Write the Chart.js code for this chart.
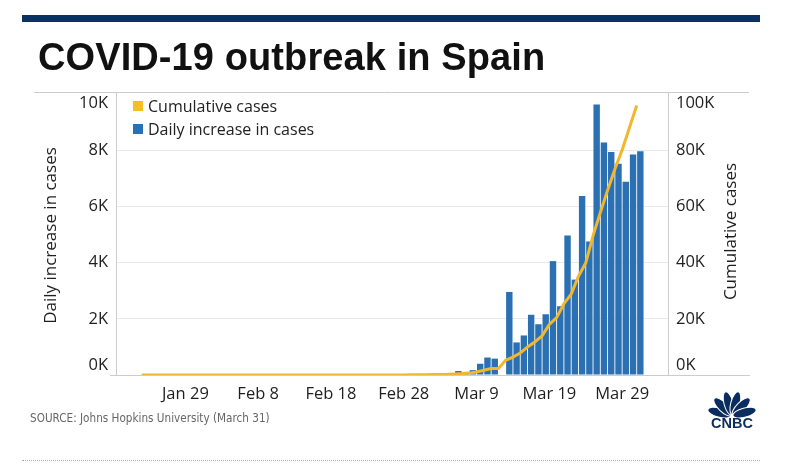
<!DOCTYPE html>
<html>
<head>
<meta charset="utf-8">
<script src="https://cdn.jsdelivr.net/npm/chart.js@4.4.1/dist/chart.umd.min.js"></script>
<style>
  html, body { margin: 0; padding: 0; background: #ffffff; width: 786px; height: 474px; overflow: hidden; }
  #wrap { position: relative; width: 786px; height: 474px; }
  #chart { position: absolute; left: 0; top: 0; }
  .topbar { position: absolute; left: 22px; top: 15px; width: 738px; height: 7px; background: #0a3162; }
  .title { position: absolute; left: 38px; top: 38px; margin: 0; font: bold 38px/38px "Liberation Sans", Arial, sans-serif; color: #111111; letter-spacing: 0.1px; white-space: nowrap; }
  .sw { position: absolute; width: 10px; height: 10px; }
  .legtxt { position: absolute; left: 148px; font: 16px/20px "Open Sans", sans-serif; color: #222222; white-space: nowrap; }
  .source { position: absolute; left: 30px; top: 410px; font: 13px/16px "Liberation Sans Narrow", "DejaVu Sans Condensed", sans-serif; color: #666666; white-space: nowrap; transform: scaleX(0.895); transform-origin: 0 50%; }
  .dotted { position: absolute; left: 22px; top: 460px; width: 738px; height: 0; border-top: 1px dotted #aaaaaa; }
  .logo { position: absolute; left: 704px; top: 389px; }
</style>
</head>
<body>
<div id="wrap">
  <canvas id="chart" width="786" height="474"></canvas>
  <div class="topbar"></div>
  <h1 class="title">COVID-19 outbreak in Spain</h1>
  <div class="sw" style="left:133px;top:101px;background:#f5bf1c"></div>
  <div class="legtxt" style="top:96px">Cumulative cases</div>
  <div class="sw" style="left:133px;top:124px;background:#2a70b3"></div>
  <div class="legtxt" style="top:119px">Daily increase in cases</div>
  <div class="source">SOURCE: Johns Hopkins University (March 31)</div>
  <div class="dotted"></div>
  <svg class="logo" width="56" height="42" viewBox="0 0 56 42">
    <g fill="#0b2c5f" stroke="#ffffff" stroke-width="1">
      <ellipse cx="28" cy="14" rx="4.6" ry="12" transform="rotate(-75 28 27)"/>
      <ellipse cx="28" cy="14" rx="4.6" ry="12" transform="rotate(-45 28 27)"/>
      <ellipse cx="28" cy="14" rx="4.6" ry="12" transform="rotate(-15 28 27)"/>
      <ellipse cx="28" cy="14" rx="4.6" ry="12" transform="rotate(15 28 27)"/>
      <ellipse cx="28" cy="14" rx="4.6" ry="12" transform="rotate(45 28 27)"/>
      <ellipse cx="28" cy="14" rx="4.6" ry="12" transform="rotate(75 28 27)"/>
    </g>
    <text x="28" y="39" text-anchor="middle" font-family="Liberation Sans, Arial, sans-serif" font-weight="bold" font-size="14.5" fill="#0b2c5f">CNBC</text>
  </svg>
</div>
<script>
// ---- data ----
const days = [
  'Jan 23','Jan 24','Jan 25','Jan 26','Jan 27','Jan 28','Jan 29','Jan 30','Jan 31',
  'Feb 1','Feb 2','Feb 3','Feb 4','Feb 5','Feb 6','Feb 7','Feb 8','Feb 9','Feb 10',
  'Feb 11','Feb 12','Feb 13','Feb 14','Feb 15','Feb 16','Feb 17','Feb 18','Feb 19','Feb 20',
  'Feb 21','Feb 22','Feb 23','Feb 24','Feb 25','Feb 26','Feb 27','Feb 28','Feb 29',
  'Mar 1','Mar 2','Mar 3','Mar 4','Mar 5','Mar 6','Mar 7','Mar 8','Mar 9','Mar 10',
  'Mar 11','Mar 12','Mar 13','Mar 14','Mar 15','Mar 16','Mar 17','Mar 18','Mar 19','Mar 20',
  'Mar 21','Mar 22','Mar 23','Mar 24','Mar 25','Mar 26','Mar 27','Mar 28','Mar 29','Mar 30','Mar 31'
];
const cumulativeCases = [
  0,0,0,0,0,0,0,0,0,
  1,1,1,1,1,1,1,1,2,2,
  2,2,2,2,2,2,2,2,2,2,
  2,2,2,2,6,13,15,32,45,
  84,120,165,222,259,400,500,673,1073,1695,
  2277,2277,5232,6391,7798,9942,11748,13910,17963,20410,
  25374,28768,35136,39885,49515,57786,65719,73235,80110,87956,95923
];
const dailyIncrease = [
  0,0,0,0,0,0,0,0,0,
  1,0,0,0,0,0,0,0,1,0,
  0,0,0,0,0,0,0,0,0,0,
  0,0,0,0,4,7,2,17,13,
  39,36,45,57,37,141,100,173,400,622,
  582,0,2955,1159,1407,2144,1806,2162,4053,2447,
  4964,3394,6368,4749,9630,8271,7933,7516,6875,7846,7967
];
const xTickLabels = ['Jan 29','Feb 8','Feb 18','Feb 28','Mar 9','Mar 19','Mar 29'];
const leftTicks = [0, 2000, 4000, 6000, 8000, 10000];
const leftTickLabels = ['0K','2K','4K','6K','8K','10K'];
const rightTicks = [0, 20000, 40000, 60000, 80000, 100000];
const rightTickLabels = ['0K','20K','40K','60K','80K','100K'];
const leftAxisTitle = 'Daily increase in cases';
const rightAxisTitle = 'Cumulative cases';

// ---- styles ----
const BODY_FONT = '"Open Sans", sans-serif';
const TEXT_COLOR = '#1e1e1e';

const decor = {
  id: 'decor',
  beforeDatasetsDraw(chart) {
    const c = chart.ctx, a = chart.chartArea;
    c.save();
    c.strokeStyle = '#cccccc';
    c.lineWidth = 1;
    c.beginPath();
    c.moveTo(34, 92.5); c.lineTo(749, 92.5);
    c.moveTo(110, a.bottom + 0.5); c.lineTo(750, a.bottom + 0.5);
    c.moveTo(a.left + 0.5, 92); c.lineTo(a.left + 0.5, a.bottom);
    c.moveTo(a.right + 0.5, 92); c.lineTo(a.right + 0.5, a.bottom);
    c.stroke();
    c.restore();
  },
  afterDraw(chart) {
    const c = chart.ctx, a = chart.chartArea;
    c.save();
    c.fillStyle = TEXT_COLOR;
    c.font = '16.5px ' + BODY_FONT;
    c.textBaseline = 'middle';
    const sy = chart.scales.y, sy2 = chart.scales.y2;
    const clampY = p => Math.min(Math.max(p, a.top + 9), a.bottom - 10);
    c.textAlign = 'right';
    leftTicks.forEach((v, i) => c.fillText(leftTickLabels[i], a.left - 8, clampY(sy.getPixelForValue(v))));
    c.textAlign = 'left';
    rightTicks.forEach((v, i) => c.fillText(rightTickLabels[i], a.right + 8, clampY(sy2.getPixelForValue(v))));
    c.font = '17px ' + BODY_FONT;
    c.textAlign = 'center';
    c.translate(51, (a.top + a.bottom) / 2 + 1);
    c.rotate(-Math.PI / 2);
    c.fillText(leftAxisTitle, 0, 0);
    c.restore();
    c.save();
    c.fillStyle = TEXT_COLOR;
    c.font = '17px ' + BODY_FONT;
    c.textAlign = 'center';
    c.textBaseline = 'middle';
    c.translate(731, (a.top + a.bottom) / 2 - 3);
    c.rotate(-Math.PI / 2);
    c.fillText(rightAxisTitle, 0, 0);
    c.restore();
  }
};

new Chart(document.getElementById('chart'), {
  type: 'bar',
  data: {
    datasets: [
      {
        type: 'line',
        label: 'Cumulative cases',
        data: cumulativeCases.map((v, i) => ({ x: i, y: v })),
        yAxisID: 'y2',
        borderColor: '#f1b82d',
        borderWidth: 3,
        pointRadius: 0,
        tension: 0,
        fill: false,
        order: 0
      },
      {
        type: 'bar',
        label: 'Daily increase in cases',
        data: dailyIncrease.map((v, i) => ({ x: i + 0.5, y: v })),
        yAxisID: 'y',
        backgroundColor: '#2a70b3',
        barPercentage: 0.88,
        categoryPercentage: 1,
        order: 1
      }
    ]
  },
  options: {
    responsive: false,
    animation: false,
    devicePixelRatio: 1,
    layout: { padding: { top: 94, left: 0, right: 0, bottom: 0 } },
    plugins: { legend: { display: false }, tooltip: { enabled: false } },
    scales: {
      x: {
        type: 'linear',
        min: -3.53,
        max: 72.3,
        offset: false,
        grid: { display: false, drawTicks: false, offset: false },
        border: { display: false },
        afterBuildTicks: s => { s.ticks = xTickLabels.map(l => ({ value: days.indexOf(l) })); },
        ticks: {
          padding: 9,
          autoSkip: false,
          maxRotation: 0,
          color: TEXT_COLOR,
          font: { family: BODY_FONT, size: 16.5 },
          callback: v => days[v]
        },
        afterFit: s => { s.height = 99; }
      },
      y: {
        position: 'left',
        min: 0,
        max: 10000,
        afterBuildTicks: s => { s.ticks = leftTicks.map(v => ({ value: v })); },
        ticks: { display: false },
        grid: {
          drawTicks: false,
          color: ctx => (ctx.tick && ctx.tick.value === 10000) ? 'rgba(0,0,0,0)' : '#e9e9e9'
        },
        border: { display: false },
        afterFit: s => { s.width = 116; }
      },
      y2: {
        position: 'right',
        min: 0,
        max: 100000,
        afterBuildTicks: s => { s.ticks = rightTicks.map(v => ({ value: v })); },
        ticks: { display: false },
        grid: { display: false, drawTicks: false },
        border: { display: false },
        afterFit: s => { s.width = 118; }
      }
    }
  },
  plugins: [decor]
});
</script>
</body>
</html>
